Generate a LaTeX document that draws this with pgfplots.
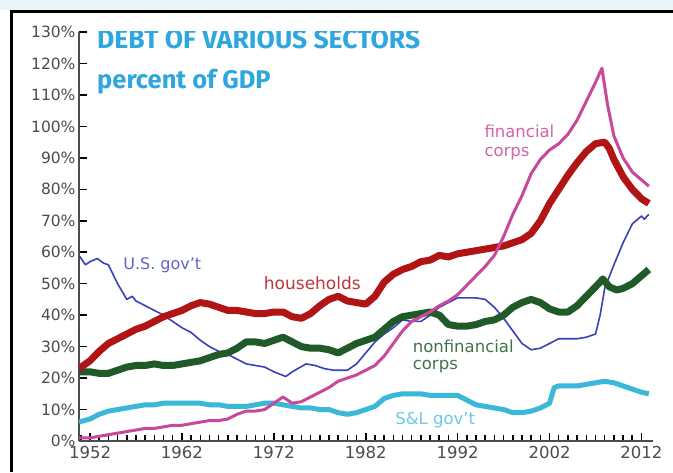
\documentclass[border=0pt]{standalone}
\usepackage{pgfplots}
\pgfplotsset{compat=1.18}
\usepackage{fontspec}
\setmainfont{DejaVu Sans}
\newfontfamily\titlefont{Fira Sans}
\definecolor{cgov}{HTML}{3A40B8}
\definecolor{chh}{HTML}{B01414}
\definecolor{cnf}{HTML}{1F5A28}
\definecolor{cfin}{HTML}{C8489A}
\definecolor{csl}{HTML}{3BB8D8}
\definecolor{ctitle}{HTML}{2EA6DF}
\definecolor{cband}{HTML}{EAF4FB}
\begin{document}
\begin{tikzpicture}
\useasboundingbox (0pt,0pt) rectangle (673pt,472pt);
\fill[white] (0pt,0pt) rectangle (673pt,472pt);
\fill[cband] (0pt,462pt) rectangle (673pt,472pt);
\draw[black,line width=3pt] (11pt,0pt) -- (11pt,460pt) -- (673pt,460pt);
\begin{axis}[
  at={(79pt,31pt)}, anchor=south west,
  scale only axis, width=573.5pt, height=409pt,
  xmin=1950.8, xmax=2013.2, ymin=0, ymax=130,
  axis x line*=bottom, axis y line*=left,
  axis line style={gray!60!black, line width=1.6pt},
  xtick align=inside, ytick align=inside,
  every tick/.style={black, line width=1.5pt},
  major tick length=8pt, minor tick length=6pt,
  xtick={1952,1962,...,2012}, minor xtick={1951,...,2012},
  ytick={0,10,...,130},
  yticklabel={\pgfmathprintnumber{\tick}\%},
  /pgf/number format/assume math mode=true,
  /pgf/number format/1000 sep={},
  xticklabel style={font=\fontsize{16.5}{19}\selectfont, text=gray!60!black, yshift=-2pt},
  yticklabel style={font=\fontsize{15.5}{18}\selectfont, text=gray!60!black},
  every axis plot/.append style={line join=round},
]
\addplot[csl, line width=5pt] coordinates {
(1950.8,6) (1952,7) (1953,8.5) (1954,9.5) (1955,10) (1956,10.5) (1957,11) (1958,11.5) (1959,11.5) (1960,12)
(1961,12) (1962,12) (1963,12) (1964,12) (1965,11.5) (1966,11.5) (1967,11) (1968,11) (1969,11) (1970,11.5)
(1971,12) (1972,12) (1973,11.5) (1974,11) (1975,10.5) (1976,10.5) (1977,10) (1978,10) (1979,9) (1980,8.5)
(1981,9) (1982,10) (1983,11) (1984,13.5) (1985,14.5) (1986,15) (1987,15) (1988,15) (1989,14.5) (1990,14.5)
(1991,14.5) (1992,14.5) (1993,13) (1994,11.5) (1995,11) (1996,10.5) (1997,10) (1998,9) (1999,9) (2000,9.5)
(2001,10.5) (2002,12) (2002.5,17) (2003,17.5) (2004,17.5) (2005,17.5) (2006,18) (2007,18.5) (2008,19)
(2009,18.5) (2010,17.5) (2011,16.5) (2012,15.5) (2012.8,15)};
\addplot[cgov, line width=1.6pt] coordinates {
(1950.8,59) (1951.5,56) (1952,57) (1952.8,58) (1953.5,56.5) (1954,56) (1955,50) (1956,45) (1956.6,46)
(1957,44.5) (1958,43) (1959,41.5) (1960,40) (1961,38) (1962,36) (1963,34.5) (1964,32) (1965,30) (1966,28.5)
(1967,27.5) (1968,26) (1969,24.5) (1970,24) (1971,23.5) (1972,22) (1973.3,20.5) (1974,22) (1975.5,24.5)
(1976.5,24) (1977.5,23) (1978.5,22.5) (1980,22.5) (1981,24.5) (1982,28) (1983,31.5) (1984,34) (1985,36)
(1986,38.5) (1987,38) (1988,38) (1989,40) (1990,42.5) (1991,44) (1992,45.5) (1993,45.5) (1994,45.5)
(1995,45) (1996,42.5) (1997,39) (1998,35) (1999,31) (2000,29) (2001,29.5) (2002,31) (2003,32.5)
(2004,32.5) (2005,32.5) (2006,33) (2007,34) (2007.5,40) (2008,48.5) (2009,56) (2010,63) (2011,69)
(2012,71.5) (2012.3,70.5) (2012.8,72)};
\addplot[cnf, line width=7pt] coordinates {
(1950.8,22) (1952,22) (1953,21.5) (1954,21.5) (1955,22.5) (1956,23.5) (1957,24) (1958,24) (1959,24.5)
(1960,24) (1961,24) (1962,24.5) (1963,25) (1964,25.5) (1965,26.5) (1966,27.5) (1967,28) (1968,29.5)
(1969,31.5) (1970,31.5) (1971,31) (1972,32) (1973,33) (1974,31.5) (1975,30) (1976,29.5) (1977,29.5)
(1978,29) (1979,28) (1980,29.5) (1981,31) (1982,32) (1983,33) (1984,35.5) (1985,38) (1986,39.5)
(1987,40) (1988,40.5) (1989,41) (1990,40) (1991,37) (1992,36.5) (1993,36.5) (1994,37) (1995,38)
(1996,38.5) (1997,40) (1998,42.5) (1999,44) (2000,45) (2001,44) (2002,42) (2003,41) (2004,41)
(2005,43) (2006,46) (2007,49) (2007.8,51.5) (2008.5,49) (2009.3,48) (2010,48.5) (2011,50) (2012,52.5)
(2012.8,54.5)};
\addplot[chh, line width=7pt] coordinates {
(1950.8,23) (1952,25.5) (1953,28.5) (1954,31) (1955,32.5) (1956,34) (1957,35.5) (1958,36.5) (1959,38)
(1960,39.5) (1961,40.5) (1962,41.5) (1963,43) (1964,44) (1965,43.5) (1966,42.5) (1967,41.5) (1968,41.5)
(1969,41) (1970,40.5) (1971,40.5) (1972,41) (1973,41) (1974,39.5) (1975,39) (1976,40.5) (1977,43)
(1978,45) (1979,46) (1980,44.5) (1981,44) (1982,43.5) (1983,46) (1984,50.5) (1985,53) (1986,54.5)
(1987,55.5) (1988,57) (1989,57.5) (1990,59) (1991,58.5) (1992,59.5) (1993,60) (1994,60.5) (1995,61)
(1996,61.5) (1997,62) (1998,63) (1999,64) (2000,66) (2001,70) (2002,75.5) (2003,80) (2004,84.5)
(2005,88.5) (2006,92) (2007,94.5) (2008,95) (2008.5,93) (2009,89.5) (2010,84) (2011,80) (2012,77)
(2012.8,75.5)};
\addplot[cfin, line width=3pt] coordinates {
(1950.8,1) (1952,1) (1953,1.5) (1954,2) (1955,2.5) (1956,3) (1957,3.5) (1958,4) (1959,4) (1960,4.5)
(1961,5) (1962,5) (1963,5.5) (1964,6) (1965,6.5) (1966,6.5) (1967,7) (1968,8.5) (1969,9.5) (1970,9.5)
(1971,10) (1972,12) (1973,14) (1974,12) (1975,12.5) (1976,14) (1977,15.5) (1978,17) (1979,19) (1980,20)
(1981,21) (1982,22.5) (1983,24) (1984,27) (1985,31) (1986,35) (1987,38) (1988,39.5) (1989,41) (1990,43)
(1991,44.5) (1992,46.5) (1993,49.5) (1994,52.5) (1995,55.5) (1996,59) (1997,65) (1998,72) (1999,78)
(2000,85) (2001,89.5) (2002,92.5) (2003,94.5) (2004,97.5) (2005,102) (2006,108) (2007,114) (2007.7,118.5)
(2008.3,107) (2009,97) (2010,90) (2011,85.5) (2012,83) (2012.8,81)};
% titles and series labels
\node[anchor=base west, text=ctitle, font=\titlefont\bfseries\fontsize{26.5}{30}\selectfont, inner sep=0pt] at (axis cs:1952.76,124.9) {DEBT OF VARIOUS SECTORS};
\node[anchor=base west, text=ctitle, font=\titlefont\bfseries\fontsize{25.5}{30}\selectfont, inner sep=0pt] at (axis cs:1952.76,112.2) {percent of GDP};
\node[anchor=base west, text=cgov!80!white, font=\fontsize{16}{19}\selectfont, inner sep=0pt] at (axis cs:1955.6,54.4) {U.S. gov't};
\node[anchor=base west, text=chh!85!white, font=\fontsize{17}{19}\selectfont, inner sep=0pt] at (axis cs:1970.9,48) {households};
\node[anchor=base west, text=cfin!85!white, font=\fontsize{16.5}{19}\selectfont, inner sep=0pt] at (axis cs:1994.9,96.6) {financial};
\node[anchor=base west, text=cfin!85!white, font=\fontsize{16.5}{19}\selectfont, inner sep=0pt] at (axis cs:1994.9,90.3) {corps};
\node[anchor=base west, text=cnf!85!white, font=\fontsize{16.5}{19}\selectfont, inner sep=0pt] at (axis cs:1987.1,28) {nonfinancial};
\node[anchor=base west, text=cnf!85!white, font=\fontsize{16.5}{19}\selectfont, inner sep=0pt] at (axis cs:1987.1,22.6) {corps};
\node[anchor=base west, text=csl!75!white, font=\fontsize{16.5}{19}\selectfont, inner sep=0pt] at (axis cs:1985.2,5.4) {S\&L gov't};
\end{axis}
\end{tikzpicture}
\end{document}
